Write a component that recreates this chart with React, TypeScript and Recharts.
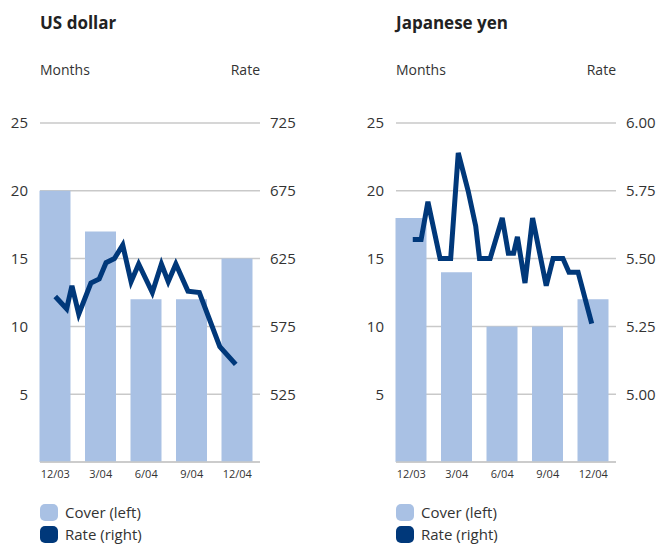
import { Bar, CartesianGrid, ComposedChart, Line, XAxis, YAxis } from 'recharts'

// Reserve cover (months, bars) against the exchange rate (line), one panel per currency.
const quarters = ['12/03', '3/04', '6/04', '9/04', '12/04']

const usdCover = [20, 17, 12, 12, 15]
const jpyCover = [18, 14, 10, 10, 12]

// line vertices: months since 12/03 and the rate at that point
const usdRateMonth = [0, 0.75, 1.1, 1.55, 2.35, 2.9, 3.35, 3.9, 4.45, 5, 5.5, 6.4, 7, 7.45, 7.95, 8.75, 9.5, 10.85, 11.9]
const usdRate = [597, 588, 605, 584, 607, 610, 622, 625, 635, 608, 621, 600, 621, 608, 621, 601, 600, 560, 547]

const jpyRateMonth = [0.1, 0.65, 1.1, 1.9, 2.6, 3.1, 3.75, 4.25, 4.5, 5.2, 6, 6.4, 6.75, 7, 7.5, 8, 8.9, 9.35, 10, 10.4, 11, 11.9]
const jpyRate = [5.57, 5.57, 5.71, 5.5, 5.5, 5.89, 5.75, 5.62, 5.5, 5.5, 5.65, 5.52, 5.52, 5.58, 5.41, 5.65, 5.4, 5.5, 5.5, 5.45, 5.45, 5.26]

const coverTicks = [5, 10, 15, 20, 25]
const usdTicks = [525, 575, 625, 675, 725]
const jpyTicks = [5.0, 5.25, 5.5, 5.75, 6.0]

const COVER = '#a9c1e4'
const RATE = '#00387a'
const GRID = '#c9c9c9'
const TEXT = '#333333'
const FONT = '"Open Sans", sans-serif'

interface PanelProps {
  left: number
  title: string
  cover: number[]
  months: number[]
  rates: number[]
  rateTicks: number[]
  rateDomain: [number, number]
  fmt: (v: number) => string
}

function Panel({ left, title, cover, months, rates, rateTicks, rateDomain, fmt }: PanelProps) {
  const bars = quarters.map((q, i) => ({ q, cover: cover[i] }))
  const line = months.map((m, i) => ({ m, rate: rates[i] }))
  const tickStyle = { fontSize: 15, fill: TEXT, fontFamily: FONT }

  return (
    <div style={{ position: 'absolute', left, top: 0, width: 300, height: 544 }}>
      <div style={{ position: 'absolute', left: 40, top: 13, fontSize: 17, lineHeight: '20px', fontWeight: 700, color: '#222' }}>
        {title}
      </div>
      <div style={{ position: 'absolute', left: 40, top: 62, fontSize: 14, lineHeight: '16px', color: TEXT }}>Months</div>
      <div style={{ position: 'absolute', right: 40, top: 62, fontSize: 14, lineHeight: '16px', color: TEXT }}>Rate</div>

      <ComposedChart width={300} height={544} data={bars} margin={{ top: 123, right: 0, bottom: 52, left: 0 }}>
        <CartesianGrid vertical={false} xAxisId="cat" yAxisId="left" stroke={GRID} strokeWidth={1.5} />
        <XAxis
          xAxisId="cat"
          dataKey="q"
          interval={0}
          height={30}
          padding={{ left: -7.5, right: 0 }}
          tickLine={false}
          tickSize={0}
          tickMargin={8}
          axisLine={{ stroke: GRID, strokeWidth: 1.5 }}
          tick={{ fontSize: 11, fill: TEXT, fontFamily: FONT }}
        />
        <XAxis
          xAxisId="t"
          type="number"
          dataKey="m"
          domain={[-1.5, 13.5]}
          allowDataOverflow
          padding={{ left: -7.5, right: 0 }}
          hide
        />
        <YAxis
          yAxisId="left"
          width={40}
          domain={[0, 25]}
          ticks={coverTicks}
          tickLine={false}
          axisLine={false}
          tickSize={0}
          tickMargin={12}
          tick={tickStyle}
        />
        <YAxis
          yAxisId="right"
          orientation="right"
          width={40}
          domain={rateDomain}
          ticks={rateTicks}
          tickFormatter={fmt}
          tickLine={false}
          axisLine={false}
          tickSize={0}
          tickMargin={10}
          tick={{ ...tickStyle, textAnchor: 'start' }}
        />
        <Bar xAxisId="cat" yAxisId="left" dataKey="cover" fill={COVER} barSize={31} isAnimationActive={false} />
        <Line
          xAxisId="t"
          yAxisId="right"
          data={line}
          dataKey="rate"
          type="linear"
          stroke={RATE}
          strokeWidth={5}
          dot={false}
          activeDot={false}
          isAnimationActive={false}
        />
      </ComposedChart>

      <div style={{ position: 'absolute', left: 40, top: 501, fontSize: 15, lineHeight: '20px', color: TEXT }}>
        {[
          { label: 'Cover (left)', color: COVER },
          { label: 'Rate (right)', color: RATE },
        ].map((it) => (
          <div key={it.label} style={{ display: 'flex', alignItems: 'center', height: 22 }}>
            <span style={{ width: 18, height: 17, borderRadius: 5, background: it.color, marginRight: 7 }} />
            {it.label}
          </div>
        ))}
      </div>
    </div>
  )
}

export default function App() {
  return (
    <div style={{ position: 'absolute', left: 0, top: 0, width: 660, height: 544, overflow: 'hidden', fontFamily: FONT, background: '#fff' }}>
      <Panel
        left={0}
        title="US dollar"
        cover={usdCover}
        months={usdRateMonth}
        rates={usdRate}
        rateTicks={usdTicks}
        rateDomain={[475, 725]}
        fmt={(v) => String(v)}
      />
      <Panel
        left={356}
        title="Japanese yen"
        cover={jpyCover}
        months={jpyRateMonth}
        rates={jpyRate}
        rateTicks={jpyTicks}
        rateDomain={[4.75, 6.0]}
        fmt={(v) => v.toFixed(2)}
      />
    </div>
  )
}
